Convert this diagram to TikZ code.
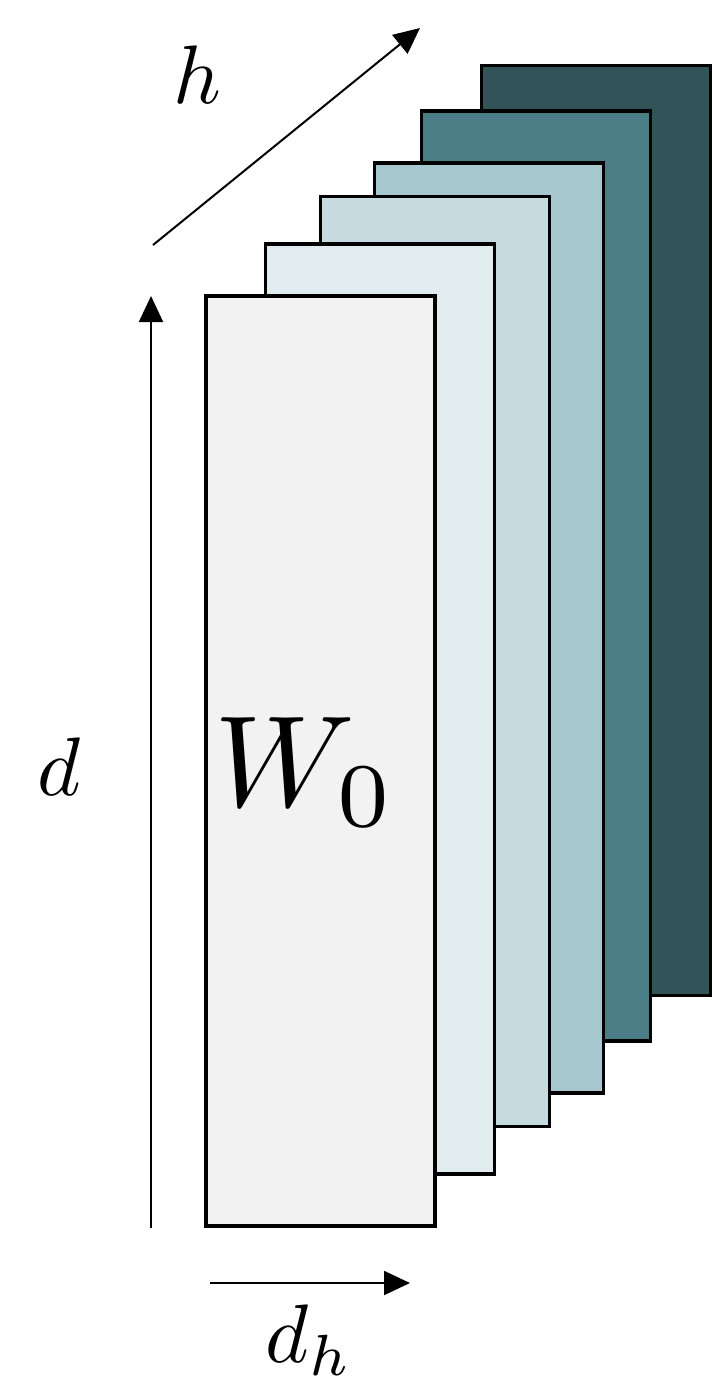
\documentclass[tikz,border=0pt]{standalone}
\usetikzlibrary{arrows.meta}
\definecolor{c1}{HTML}{F2F2F2}
\definecolor{c2}{HTML}{E0ECEE}
\definecolor{c3}{HTML}{C5DBE0}
\definecolor{c4}{HTML}{A7C8CE}
\definecolor{c5}{HTML}{4B7D87}
\definecolor{c6}{HTML}{325358}
\begin{document}
\begin{tikzpicture}[x=1pt,y=-1pt,
  sheet/.style={draw=black,line width=3.5pt,minimum width=229pt,minimum height=930pt,inner sep=0pt,rectangle},
  axis/.style={line width=2pt,-{Triangle[length=26pt,width=24pt]}},
  lbl/.style={inner sep=0pt}]
\useasboundingbox (0,0) rectangle (712,1400);
\node[sheet,fill=c6] (s6) at (596,530.5) {};
\node[sheet,fill=c5] (s5) at (536,576) {};
\node[sheet,fill=c4] (s4) at (489,628) {};
\node[sheet,fill=c3] (s3) at (435,661.5) {};
\node[sheet,fill=c2] (s2) at (380,709) {};
\node[sheet,fill=c1] (s1) at (320.5,761) {};
\node[lbl,scale=13] (w0) at (305,772) {$W_0$};
\coordinate (dA) at (151,1228);
\coordinate (dB) at (151,296);
\coordinate (hA) at (153,245);
\coordinate (hB) at (420,28);
\coordinate (dhA) at (210,1283);
\coordinate (dhB) at (410,1283);
\draw[axis] (dA) -- (dB);
\draw[axis] (hA) -- (hB);
\draw[axis] (dhA) -- (dhB);
\node[lbl,scale=8.3] (hl) at (197,75) {$h$};
\node[lbl,scale=8.3] (dl) at (59,767) {$d$};
\node[lbl,scale=8.3] (dhl) at (309,1340) {$d_h$};
\end{tikzpicture}
\end{document}
